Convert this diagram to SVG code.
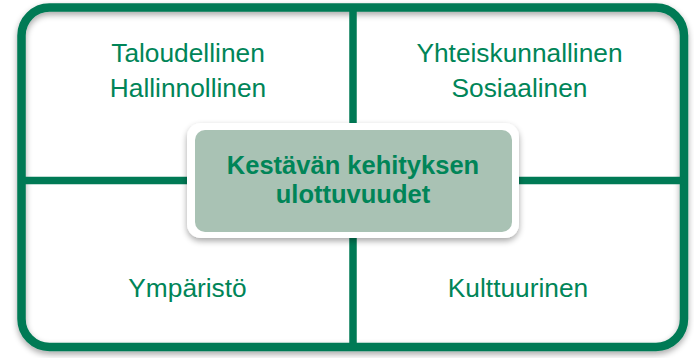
<svg xmlns="http://www.w3.org/2000/svg" width="694" height="358" viewBox="0 0 694 358">
<style>
.q{font-family:"Liberation Sans",Arial,sans-serif;font-size:26.3px;fill:#008558;text-anchor:middle}
.c{font-family:"Liberation Sans",Arial,sans-serif;font-size:25.5px;font-weight:bold;fill:#008558;text-anchor:middle}
.ln{stroke:#007A55;fill:none}
</style>
<defs>
<filter id="sh" x="-10%" y="-20%" width="120%" height="150%">
<feGaussianBlur in="SourceAlpha" stdDeviation="3"/>
<feOffset dx="0" dy="3"/>
<feComponentTransfer><feFuncA type="linear" slope="0.35"/></feComponentTransfer>
<feMerge><feMergeNode/><feMergeNode in="SourceGraphic"/></feMerge>
</filter>
</defs>
<rect width="694" height="358" fill="#fff"/>
<g id="connectors">
<rect class="ln" x="21.5" y="7.5" width="662.5" height="339.5" rx="28" stroke-width="8.5" filter="url(#sh)"/>
<line class="ln" x1="353" y1="8" x2="353" y2="347" stroke-width="7.5"/>
<line class="ln" x1="22" y1="180.5" x2="684" y2="180.5" stroke-width="7.5"/>
</g>
<g id="q1">
<text class="q" x="188" y="62">Taloudellinen</text>
<text class="q" x="188" y="97">Hallinnollinen</text>
</g>
<g id="q2">
<text class="q" x="519.5" y="62">Yhteiskunnallinen</text>
<text class="q" x="519.5" y="97">Sosiaalinen</text>
</g>
<g id="q3">
<text class="q" x="187.5" y="297">Ympäristö</text>
</g>
<g id="q4">
<text class="q" x="518" y="297">Kulttuurinen</text>
</g>
<g id="center">
<rect x="187" y="123" width="332" height="115" rx="14" fill="#fff" filter="url(#sh)"/>
<rect x="195" y="130" width="317" height="102" rx="10" fill="#A9C2B4"/>
<text class="c" x="353" y="174">Kestävän kehityksen</text>
<text class="c" x="353" y="203">ulottuvuudet</text>
</g>
</svg>
